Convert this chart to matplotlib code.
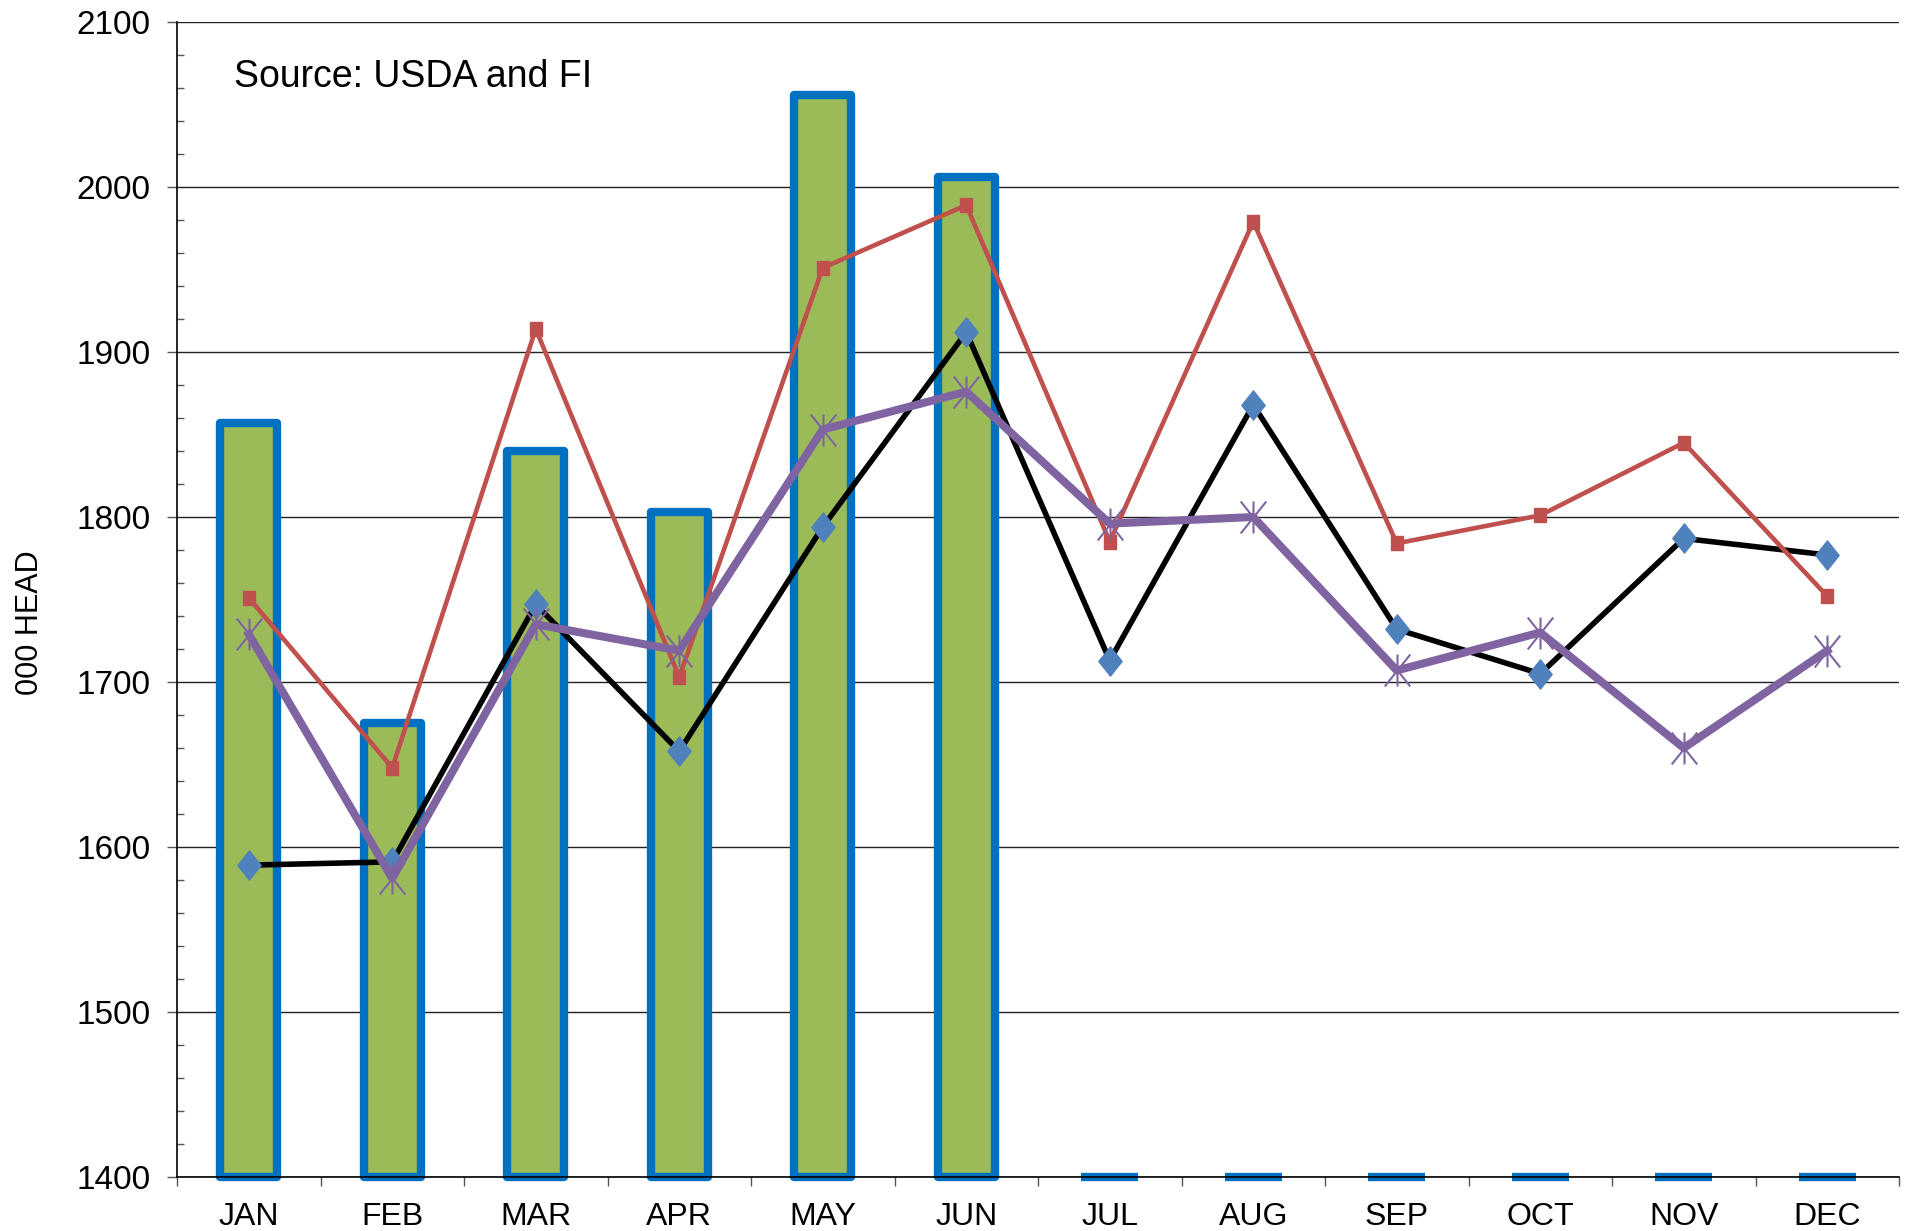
import matplotlib
matplotlib.use("Agg")
import matplotlib.pyplot as plt
from matplotlib.path import Path
from matplotlib.ticker import MultipleLocator, FixedLocator, NullFormatter
import numpy as np

plt.rcParams['font.family'] = ['Liberation Sans', 'DejaVu Sans']

months = ['JAN', 'FEB', 'MAR', 'APR', 'MAY', 'JUN',
          'JUL', 'AUG', 'SEP', 'OCT', 'NOV', 'DEC']
# bar series (JUL-DEC not reported yet -> at axis floor)
bars = [1857, 1675, 1840, 1803, 2056, 2006, 0, 0, 0, 0, 0, 0]
black_diamond = [1589, 1591, 1747, 1658, 1794, 1912, 1713, 1868, 1732, 1705, 1787, 1777]
red_square = [1751, 1648, 1914, 1703, 1951, 1989, 1785, 1979, 1784, 1801, 1845, 1752]
purple_star = [1729, 1581, 1735, 1719, 1853, 1876, 1796, 1800, 1707, 1730, 1660, 1719]

ymin, ymax = 1400, 2100

# excel-like markers (a bit taller than wide)
diamond = Path([(0, 1), (0.8, 0), (0, -1), (-0.8, 0), (0, 1)],
               [Path.MOVETO, Path.LINETO, Path.LINETO, Path.LINETO, Path.CLOSEPOLY])
square = Path([(-0.85, -1), (0.85, -1), (0.85, 1), (-0.85, 1), (-0.85, -1)],
              [Path.MOVETO, Path.LINETO, Path.LINETO, Path.LINETO, Path.CLOSEPOLY])
asterisk = Path([(-0.8, -1), (0.8, 1), (-0.8, 1), (0.8, -1), (0, -1), (0, 1)],
                [Path.MOVETO, Path.LINETO, Path.MOVETO, Path.LINETO, Path.MOVETO, Path.LINETO])

fig = plt.figure(figsize=(19.11, 12.31), dpi=100)
ax = fig.add_axes([177/1911, 1 - 1177/1231, (1899-177)/1911, (1177-22)/1231])

x = np.arange(len(months))
heights = np.clip(bars, ymin, None) - ymin
ax.bar(x, heights, bottom=ymin, width=0.4, color='#9BBB59', edgecolor='#0070C0',
       linewidth=6, joinstyle='round', zorder=2, clip_on=False)

ax.plot(x, black_diamond, color='black', lw=4.0, marker=diamond, ms=21,
        mfc='#4F81BD', mec='#4F81BD', zorder=3)
ax.plot(x, red_square, color='#C0504D', lw=3.3, marker=square, ms=10,
        mfc='#C0504D', mec='#C0504D', zorder=4)
ax.plot(x, purple_star, color='#8064A2', lw=5.8, zorder=5)
ax.plot(x, purple_star, ls='none', marker=asterisk, ms=23, mfc='none',
        mec='#8064A2', mew=1.5, zorder=5)

ax.set_xlim(-0.5, len(months) - 0.5)
ax.set_ylim(ymin, ymax)

# y axis
ax.yaxis.set_major_locator(MultipleLocator(100))
ax.yaxis.set_minor_locator(MultipleLocator(20))
ax.tick_params(axis='y', which='major', direction='out', length=7, width=1,
               color='#555555', labelsize=24, pad=12)
ax.tick_params(axis='y', which='minor', direction='in', length=5, width=1,
               color='#555555')
ax.grid(axis='y', which='major', color='#222222', lw=1.0, zorder=0)
ax.set_axisbelow(True)

# x axis: ticks at boundaries, labels at centres
ax.xaxis.set_major_locator(FixedLocator(np.arange(-0.5, len(months), 1)))
ax.xaxis.set_major_formatter(NullFormatter())
ax.xaxis.set_minor_locator(FixedLocator(x))
ax.set_xticklabels(months, minor=True)
ax.tick_params(axis='x', which='major', direction='out', length=6.5, width=1,
               color='#555555')
ax.tick_params(axis='x', which='minor', length=0, labelsize=23, pad=18)

for s in ['top', 'right']:
    ax.spines[s].set_visible(False)
ax.spines['left'].set_color('black')
ax.spines['bottom'].set_color('black')
ax.spines['left'].set_linewidth(1.2)
ax.spines['bottom'].set_linewidth(1.2)
ax.spines['bottom'].set_zorder(6)

ax.set_ylabel('000 HEAD', fontsize=22)
ax.yaxis.set_label_coords(-0.0764, 0.48)

ax.text(0.033, 0.952, 'Source: USDA and FI', transform=ax.transAxes,
        fontsize=27, va='center', ha='left')

fig.savefig('out.png', dpi=100)
